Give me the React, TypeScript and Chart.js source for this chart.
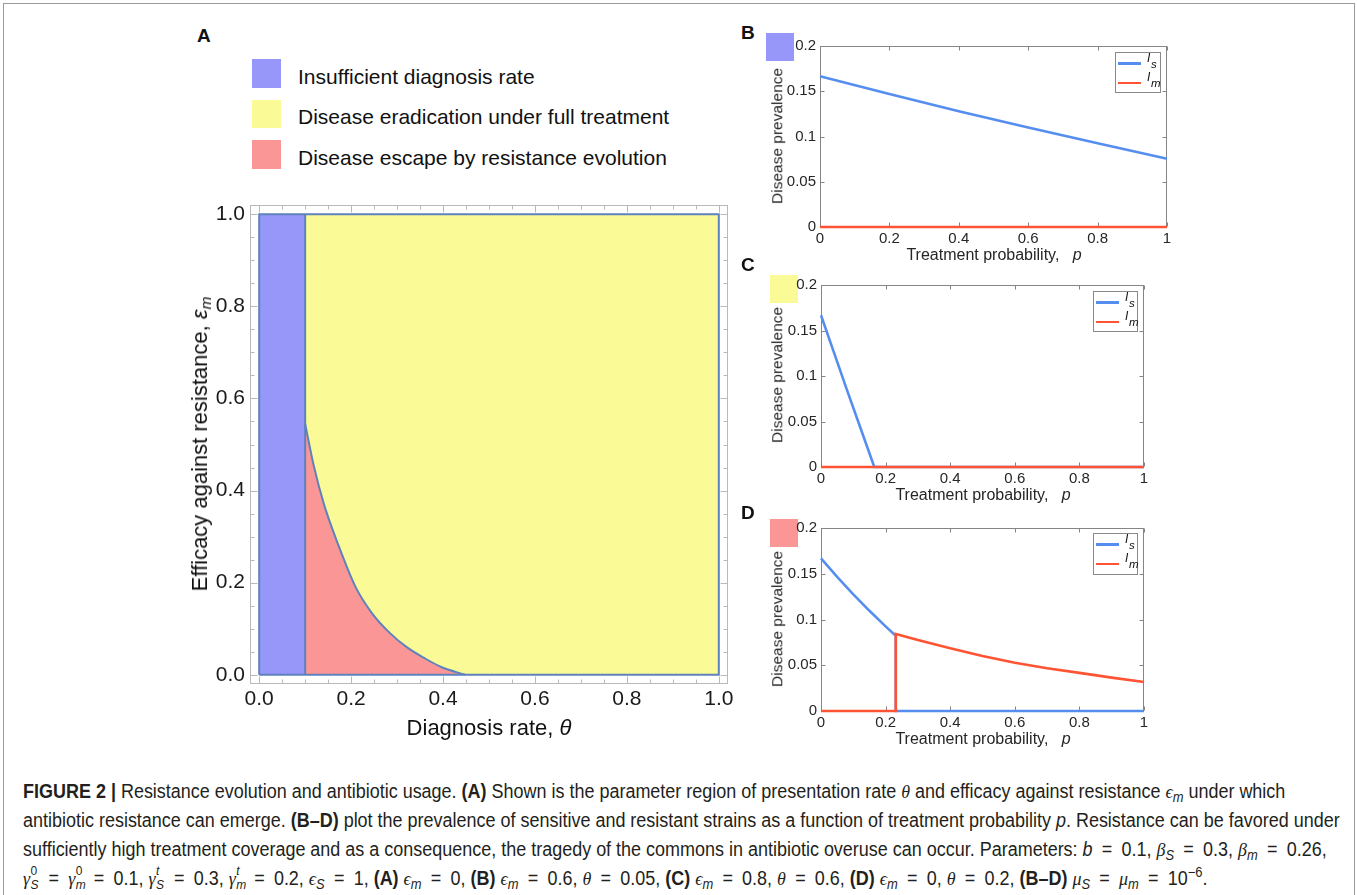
import React, { useEffect, useLayoutEffect, useRef, useState } from 'react';
import { Chart, registerables } from 'chart.js';

Chart.register(...registerables);

const FONT = "'Liberation Sans', Arial, Helvetica, sans-serif";
const NARROW = "'Liberation Sans Narrow', 'Liberation Sans', Arial, sans-serif";
const SERIF = "'Liberation Serif', 'DejaVu Serif', serif";

// ---------------- Panel A data ----------------
const thetaTickValues = [0, 0.2, 0.4, 0.6, 0.8, 1];
const thetaTickLabels = ['0.0', '0.2', '0.4', '0.6', '0.8', '1.0'];
const epsTickValues = [0, 0.2, 0.4, 0.6, 0.8, 1];
const epsTickLabels = ['0.0', '0.2', '0.4', '0.6', '0.8', '1.0'];
const minorTickValuesA = [0.05, 0.1, 0.15, 0.25, 0.3, 0.35, 0.45, 0.5, 0.55, 0.65, 0.7, 0.75, 0.85, 0.9, 0.95];

// insufficient diagnosis region (theta < 0.1)
const insufficientTheta = [0, 0.1];
const insufficientTop = [1, 1];
// eradication region (theta >= 0.1)
const eradicationTheta = [0.1, 1];
const eradicationTop = [1, 1];
// escape-region boundary (theta, eps_m)
const escapeTheta = [0.1, 0.102, 0.1185, 0.141, 0.171, 0.209, 0.246, 0.284, 0.321, 0.359, 0.396, 0.448];
const escapeEps = [0.545, 0.535, 0.455, 0.37, 0.285, 0.192, 0.133, 0.091, 0.06, 0.0365, 0.017, 0];
// outline of the parameter square and the diagnosis threshold
const outlineTheta = [0, 1, 1, 0, 0];
const outlineEps = [0, 0, 1, 1, 0];
const thresholdTheta = [0.1, 0.1];
const thresholdEps = [0, 1];

const regionLegend = [
  'Insufficient diagnosis rate',
  'Disease eradication under full treatment',
  'Disease escape by resistance evolution',
];

// ---------------- Panels B-D data ----------------
const pTickValues = [0, 0.2, 0.4, 0.6, 0.8, 1];
const pTickLabels = ['0', '0.2', '0.4', '0.6', '0.8', '1'];
const prevTickValues = [0, 0.05, 0.1, 0.15, 0.2];
const prevTickLabels = ['0', '0.05', '0.1', '0.15', '0.2'];

const pB = [0, 0.2, 0.4, 0.6, 0.8, 1];
const IsB = [0.1667, 0.147, 0.128, 0.11, 0.0925, 0.0753];
const ImB = [0, 0, 0, 0, 0, 0];

const pC = [0, 0.04, 0.08, 0.12, 0.165, 0.2, 0.4, 0.6, 0.8, 1];
const IsC = [0.1667, 0.126, 0.085, 0.045, 0, 0, 0, 0, 0, 0];
const ImC = [0, 0, 0, 0, 0, 0, 0, 0, 0, 0];

const pDs = [0, 0.05, 0.1, 0.15, 0.2, 0.2315, 0.2315, 1];
const IsD = [0.1667, 0.1465, 0.1275, 0.1095, 0.0925, 0.0822, 0, 0];
const pDm = [0, 0.2315, 0.2315, 0.3, 0.4, 0.5, 0.6, 0.7, 0.8, 0.9, 1];
const ImD = [0, 0, 0.0841, 0.0775, 0.0685, 0.06, 0.0527, 0.0468, 0.0417, 0.0365, 0.0316];

const seriesLegend = [
  { base: 'I', sub: 's' },
  { base: 'I', sub: 'm' },
];

// ---------------- styles ----------------
const BLUE_REGION = 'rgb(151,151,250)';
const YELLOW_REGION = 'rgb(250,250,150)';
const RED_REGION = 'rgb(250,150,150)';
const EDGE = 'rgb(95,130,188)';
const IS_COLOR = 'rgb(86,142,240)';
const IM_COLOR = 'rgb(255,84,52)';
const NONE = 'rgba(0,0,0,0)';

type Box = { l: number; t: number; r: number; b: number };

const zip = (xs: number[], ys: number[]) => xs.map((x, i) => ({ x, y: ys[i] }));

function fixedAxis(values: number[], labels: string[], isX: boolean, size: number, fontSize: number, color: string, padding: number, min: number, max: number) {
  return {
    type: 'linear',
    min,
    max,
    afterBuildTicks: (s: any) => {
      s.ticks = values.map((v) => ({ value: v }));
    },
    afterFit: (s: any) => {
      if (isX) s.height = size;
      else s.width = size;
    },
    ticks: {
      callback: (_v: any, i: number) => labels[i],
      font: { family: FONT, size: fontSize },
      color,
      padding,
      autoSkip: false,
      maxRotation: 0,
      minRotation: 0,
    },
    grid: { display: false, drawTicks: false },
    border: { display: false },
  };
}

const mmaFrame = {
  id: 'mmaFrame',
  afterDraw(chart: any) {
    const { ctx, chartArea: ca, scales } = chart;
    const x = scales.x;
    const y = scales.y;
    const L = Math.round(ca.left) + 0.5;
    const R = Math.round(ca.right) - 0.5;
    const T = Math.round(ca.top) + 0.5;
    const B = Math.round(ca.bottom) - 0.5;
    ctx.save();
    ctx.strokeStyle = '#b9b9b9';
    ctx.lineWidth = 1;
    ctx.strokeRect(L, T, R - L, B - T);
    ctx.beginPath();
    const drawX = (v: number, len: number) => {
      const px = Math.round(x.getPixelForValue(v)) + 0.5;
      ctx.moveTo(px, B);
      ctx.lineTo(px, B - len);
      ctx.moveTo(px, T);
      ctx.lineTo(px, T + len);
    };
    const drawY = (v: number, len: number) => {
      const py = Math.round(y.getPixelForValue(v)) + 0.5;
      ctx.moveTo(L, py);
      ctx.lineTo(L + len, py);
      ctx.moveTo(R, py);
      ctx.lineTo(R - len, py);
    };
    thetaTickValues.forEach((v) => drawX(v, 7));
    minorTickValuesA.forEach((v) => drawX(v, 4));
    epsTickValues.forEach((v) => drawY(v, 7));
    minorTickValuesA.forEach((v) => drawY(v, 4));
    ctx.stroke();
    ctx.restore();
  },
};

const matlabBox = {
  id: 'matlabBox',
  beforeDatasetsDraw(chart: any) {
    const { ctx, chartArea: ca, scales } = chart;
    const x = scales.x;
    const y = scales.y;
    const L = Math.round(ca.left) + 0.5;
    const R = Math.round(ca.right) - 0.5;
    const T = Math.round(ca.top) + 0.5;
    const B = Math.round(ca.bottom) - 0.5;
    ctx.save();
    ctx.strokeStyle = '#858585';
    ctx.lineWidth = 1;
    ctx.strokeRect(L, T, R - L, B - T);
    ctx.beginPath();
    pTickValues.forEach((v) => {
      const px = Math.round(x.getPixelForValue(v)) + 0.5;
      ctx.moveTo(px, B);
      ctx.lineTo(px, B - 4);
      ctx.moveTo(px, T);
      ctx.lineTo(px, T + 4);
    });
    prevTickValues.forEach((v) => {
      const py = Math.round(y.getPixelForValue(v)) + 0.5;
      ctx.moveTo(L, py);
      ctx.lineTo(L + 4, py);
      ctx.moveTo(R, py);
      ctx.lineTo(R - 4, py);
    });
    ctx.stroke();
    ctx.restore();
  },
};

function ChartBox({ area, pad, build }: { area: Box; pad: Box; build: (pad: Box) => any }) {
  const ref = useRef<HTMLCanvasElement | null>(null);
  const w = area.r - area.l + pad.l + pad.r;
  const h = area.b - area.t + pad.t + pad.b;
  useEffect(() => {
    if (!ref.current) return;
    const chart = new Chart(ref.current, build(pad));
    return () => chart.destroy();
  }, []);
  return (
    <canvas
      ref={ref}
      width={w}
      height={h}
      style={{ position: 'absolute', left: area.l - pad.l, top: area.t - pad.t, width: w, height: h }}
    />
  );
}

const baseOptions = (pad: Box) => ({
  animation: false,
  responsive: false,
  events: [],
  layout: { padding: { left: 0, top: pad.t, right: pad.r, bottom: 0 }, autoPadding: false },
  plugins: { legend: { display: false }, tooltip: { enabled: false }, title: { display: false } },
});

const buildA = (pad: Box) => ({
  type: 'line',
  data: {
    datasets: [
      { data: zip(eradicationTheta, eradicationTop), fill: 'origin', backgroundColor: YELLOW_REGION, borderColor: NONE, borderWidth: 0, pointRadius: 0, order: 4 },
      { data: zip(insufficientTheta, insufficientTop), fill: 'origin', backgroundColor: BLUE_REGION, borderColor: NONE, borderWidth: 0, pointRadius: 0, order: 4 },
      { data: zip(escapeTheta, escapeEps), fill: 'origin', backgroundColor: RED_REGION, borderColor: NONE, borderWidth: 0, pointRadius: 0, order: 3, cubicInterpolationMode: 'monotone' },
      { data: zip(outlineTheta, outlineEps), fill: false, borderColor: EDGE, borderWidth: 2, pointRadius: 0, order: 1 },
      { data: zip(thresholdTheta, thresholdEps), fill: false, borderColor: EDGE, borderWidth: 2, pointRadius: 0, order: 1 },
      { data: zip(escapeTheta, escapeEps), fill: false, borderColor: EDGE, borderWidth: 2, pointRadius: 0, order: 1, cubicInterpolationMode: 'monotone' },
    ],
  },
  options: {
    ...baseOptions(pad),
    scales: {
      x: fixedAxis(thetaTickValues, thetaTickLabels, true, pad.b, 21, '#1a1a1a', 3, -0.02, 1.02),
      y: fixedAxis(epsTickValues, epsTickLabels, false, pad.l, 21, '#1a1a1a', 5, -0.02, 1.02),
    },
  },
  plugins: [mmaFrame],
});

const buildPrevalence = (isP: number[], isV: number[], imP: number[], imV: number[]) => (pad: Box) => ({
  type: 'line',
  data: {
    datasets: [
      { label: 'Is', data: zip(isP, isV), fill: false, borderColor: IS_COLOR, borderWidth: 2.6, pointRadius: 0, pointHoverRadius: 0, order: 2, clip: 3 },
      { label: 'Im', data: zip(imP, imV), fill: false, borderColor: IM_COLOR, borderWidth: 2.6, pointRadius: 0, pointHoverRadius: 0, order: 1, clip: 3 },
    ],
  },
  options: {
    ...baseOptions(pad),
    scales: {
      x: fixedAxis(pTickValues, pTickLabels, true, pad.b, 15, '#262626', 3, 0, 1),
      y: fixedAxis(prevTickValues, prevTickLabels, false, pad.l, 15, '#262626', 4, 0, 0.2),
    },
  },
  plugins: [matlabBox],
});

function Label({ x, y, size, anchor = 'start', rotate = false, weight = 400, color = '#111', family = FONT, children }: any) {
  const tx = anchor === 'middle' ? '-50%' : anchor === 'end' ? '-100%' : '0';
  const transform = rotate ? 'translate(-50%,-50%) rotate(-90deg)' : `translate(${tx},-50%)`;
  return (
    <div
      style={{
        position: 'absolute',
        left: x,
        top: y,
        fontSize: size,
        lineHeight: 1,
        fontWeight: weight,
        fontFamily: family,
        color,
        whiteSpace: 'nowrap',
        transform,
      }}
    >
      {children}
    </div>
  );
}

function Swatch({ x, y, size, color }: any) {
  return <div style={{ position: 'absolute', left: x, top: y, width: size, height: size, background: color }} />;
}

function SeriesLegend({ x, y, w, h }: any) {
  const rowsY = [10.6, 29.8];
  const colors = [IS_COLOR, IM_COLOR];
  return (
    <div
      style={{
        position: 'absolute',
        left: x,
        top: y,
        width: w,
        height: h,
        boxSizing: 'border-box',
        border: '1px solid #8a8a8a',
        background: '#fff',
      }}
    >
      {seriesLegend.map((s, i) => (
        <React.Fragment key={s.sub}>
          <div style={{ position: 'absolute', left: 2, top: rowsY[i] - 1.3, width: 23, height: 2.6, background: colors[i] }} />
          <div style={{ position: 'absolute', left: 31, top: rowsY[i] - 11.5, fontSize: 12, lineHeight: 1, fontStyle: 'italic', color: '#111' }}>
            {s.base}
          </div>
          <div style={{ position: 'absolute', left: 35, top: rowsY[i] - 4.5, fontSize: 11.5, lineHeight: 1, fontStyle: 'italic', color: '#111' }}>
            {s.sub}
          </div>
        </React.Fragment>
      ))}
    </div>
  );
}

function SS({ sup, sub, supItalic = false }: { sup: string; sub: string; supItalic?: boolean }) {
  return (
    <span style={{ display: 'inline-block', position: 'relative', width: 10, height: 19 }}>
      <span style={{ position: 'absolute', left: 0.5, top: -2, fontSize: 13, lineHeight: '13px', fontStyle: supItalic ? 'italic' : 'normal' }}>{sup}</span>
      <span style={{ position: 'absolute', left: 0.5, top: 12, fontSize: 13, lineHeight: '13px', fontStyle: 'italic' }}>{sub}</span>
    </span>
  );
}

const Sb = ({ children }: any) => <sub style={{ fontSize: '0.72em', verticalAlign: '-0.28em', lineHeight: 0, fontStyle: 'italic', fontFamily: NARROW }}>{children}</sub>;
const G = ({ children }: any) => <i style={{ fontFamily: SERIF }}>{children}</i>;
const Eq = () => <span style={{ margin: '0 10px' }}>=</span>;

function Caption() {
  const ref = useRef<HTMLDivElement | null>(null);
  const [sx, setSx] = useState(1);
  useLayoutEffect(() => {
    if (ref.current) {
      const w = ref.current.offsetWidth;
      if (w > 0) setSx(1317 / w);
    }
  }, []);
  const lines = [
    <>
      <b>FIGURE 2 |</b> Resistance evolution and antibiotic usage. <b>(A)</b> Shown is the parameter region of presentation rate <G>θ</G> and efficacy against resistance <G>ϵ</G><Sb>m</Sb> under which
    </>,
    <>
      antibiotic resistance can emerge. <b>(B–D)</b> plot the prevalence of sensitive and resistant strains as a function of treatment probability <i>p</i>. Resistance can be favored under
    </>,
    <>
      sufficiently high treatment coverage and as a consequence, the tragedy of the commons in antibiotic overuse can occur. Parameters: <i>b</i><Eq />0.1, <G>β</G><Sb>S</Sb><Eq />0.3, <G>β</G><Sb>m</Sb><Eq />0.26,
    </>,
    <>
      <G>γ</G>
      <SS sup="0" sub="S" />
      <Eq />
      <G>γ</G>
      <SS sup="0" sub="m" />
      <Eq />0.1, <G>γ</G>
      <SS sup="t" sub="S" supItalic />
      <Eq />0.3, <G>γ</G>
      <SS sup="t" sub="m" supItalic />
      <Eq />0.2, <G>ϵ</G><Sb>S</Sb><Eq />1, <b>(A)</b> <G>ϵ</G><Sb>m</Sb><Eq />0, <b>(B)</b> <G>ϵ</G><Sb>m</Sb><Eq />0.6, <G>θ</G><Eq />0.05, <b>(C)</b>{' '}
      <G>ϵ</G><Sb>m</Sb><Eq />0.8, <G>θ</G><Eq />0.6, <b>(D)</b> <G>ϵ</G><Sb>m</Sb><Eq />0, <G>θ</G><Eq />0.2, <b>(B–D)</b> <G>μ</G><Sb>S</Sb><Eq /><G>μ</G><Sb>m</Sb><Eq />10
      <sup style={{ fontSize: '0.72em', verticalAlign: '0.55em', lineHeight: 0 }}>−6</sup>.
    </>,
  ];
  return (
    <>
      {lines.map((ln, i) => (
        <div
          key={i}
          ref={i === 1 ? ref : undefined}
          style={{
            position: 'absolute',
            left: 23,
            top: 779 + i * 29,
            fontSize: 19.5,
            lineHeight: '24px',
            fontFamily: NARROW,
            color: '#231f20',
            whiteSpace: 'nowrap',
            transform: `scaleX(${sx})`,
            transformOrigin: '0 0',
          }}
        >
          {ln}
        </div>
      ))}
    </>
  );
}

const areaA: Box = { l: 250, t: 205, r: 728, b: 684 };
const padA: Box = { l: 90, t: 20, r: 30, b: 40 };
const areaB: Box = { l: 820, t: 45, r: 1167, b: 227 };
const areaC: Box = { l: 821, t: 284, r: 1144, b: 467 };
const areaD: Box = { l: 821, t: 527, r: 1144, b: 711 };
const padP: Box = { l: 50, t: 12, r: 14, b: 28 };

export default function App() {
  const titleColor = '#262626';
  return (
    <div
      style={{
        position: 'fixed',
        left: 0,
        top: 0,
        width: 1357,
        height: 895,
        background: '#fff',
        fontFamily: FONT,
        color: '#111',
        overflow: 'hidden',
      }}
    >
      <div style={{ position: 'absolute', left: 3, top: 3, width: 1350, height: 900, border: '1px solid #9a9a9a' }} />

      {/* Panel A */}
      <Label x={197} y={34.5} size={19} weight={700}>A</Label>
      <Swatch x={252} y={59} size={28.5} color={BLUE_REGION} />
      <Swatch x={252} y={99.5} size={28.5} color={YELLOW_REGION} />
      <Swatch x={252} y={140} size={28.5} color={RED_REGION} />
      <Label x={298} y={75.5} size={21}>{regionLegend[0]}</Label>
      <Label x={298} y={115.5} size={21}>{regionLegend[1]}</Label>
      <Label x={298} y={157} size={21}>{regionLegend[2]}</Label>

      <ChartBox area={areaA} pad={padA} build={buildA} />
      <Label x={489} y={728} size={22} anchor="middle">
        Diagnosis rate, <i>θ</i>
      </Label>
      <Label x={200} y={444} size={22} rotate>
        Efficacy against resistance, <i>ε</i>
        <sub style={{ fontSize: '0.7em', fontStyle: 'italic', verticalAlign: '-0.25em', lineHeight: 0 }}>m</sub>
      </Label>

      {/* Panel B */}
      <Label x={741} y={31.7} size={19} weight={700}>B</Label>
      <Swatch x={766} y={33} size={28} color={BLUE_REGION} />
      <ChartBox area={areaB} pad={padP} build={buildPrevalence(pB, IsB, pB, ImB)} />
      <SeriesLegend x={1115} y={52} w={46} h={41} />
      <Label x={777} y={136} size={15.5} rotate color={titleColor}>Disease prevalence</Label>
      <Label x={994} y={255} size={16} anchor="middle" color={titleColor}>
        Treatment probability,&nbsp;&nbsp; <i>p</i>
      </Label>

      {/* Panel C */}
      <Label x={741} y={264} size={19} weight={700}>C</Label>
      <Swatch x={769.5} y={274.5} size={28.5} color={YELLOW_REGION} />
      <ChartBox area={areaC} pad={padP} build={buildPrevalence(pC, IsC, pC, ImC)} />
      <SeriesLegend x={1093} y={291} w={45} h={41} />
      <Label x={777} y={375} size={15.5} rotate color={titleColor}>Disease prevalence</Label>
      <Label x={983} y={495} size={16} anchor="middle" color={titleColor}>
        Treatment probability,&nbsp;&nbsp; <i>p</i>
      </Label>

      {/* Panel D */}
      <Label x={741} y={512} size={19} weight={700}>D</Label>
      <Swatch x={769.5} y={518.5} size={28.5} color={RED_REGION} />
      <ChartBox area={areaD} pad={padP} build={buildPrevalence(pDs, IsD, pDm, ImD)} />
      <SeriesLegend x={1093} y={533} w={45} h={42} />
      <Label x={777} y={619} size={15.5} rotate color={titleColor}>Disease prevalence</Label>
      <Label x={983} y={739} size={16} anchor="middle" color={titleColor}>
        Treatment probability,&nbsp;&nbsp; <i>p</i>
      </Label>

      <Caption />
    </div>
  );
}
